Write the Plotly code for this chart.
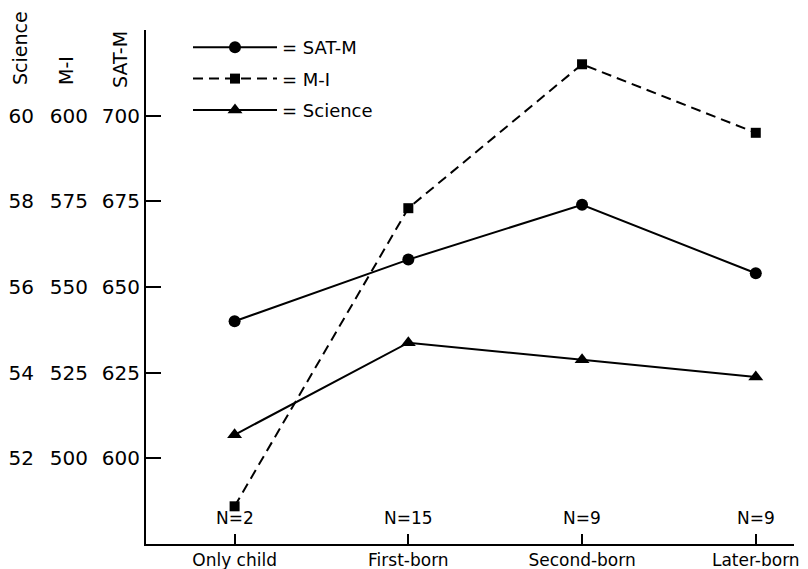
import plotly.graph_objects as go

categories = ["Only child", "First-born", "Second-born", "Later-born"]
n_labels = ["N=2", "N=15", "N=9", "N=9"]
sat_m = [640, 658, 674, 654]
m_i = [486, 573, 615, 595]
science = [52.55, 54.7, 54.3, 53.9]

sat_ticks = [600, 625, 650, 675, 700, 725]
sat_ticktext = ["600", "625", "650", "675", "700", ""]
mi_ticks = [500, 525, 550, 575, 600]
sci_ticks = [52, 54, 56, 58, 60]

FONT = "DejaVu Sans"
OFF = 8  # page body margin offset
W, H = 808 - OFF, 569 - OFF
ML, MR, MT, MB = 0, 14, 30 - OFF, 25
PW = W - ML - MR
PH = H - MT - MB

def px(xp):
    return (xp - OFF - ML) / PW

def py(yp):
    return (H - MB - (yp - OFF)) / PH

fig = go.Figure()
fig.add_trace(go.Scatter(
    x=categories, y=sat_m, name="= SAT-M", mode="lines+markers",
    line=dict(color="black", width=2),
    marker=dict(symbol="circle", size=12, color="black"),
    legendgroup="a", yaxis="y"))
fig.add_trace(go.Scatter(
    x=categories, y=m_i, name="= M-I", mode="lines+markers",
    line=dict(color="black", width=2, dash="10px,6px"),
    marker=dict(symbol="square", size=10, color="black"),
    legendgroup="b", yaxis="y2"))
fig.add_trace(go.Scatter(
    x=categories, y=science, name="= Science", mode="lines+markers",
    line=dict(color="black", width=2),
    marker=dict(symbol="triangle-up", size=13, color="black"),
    legendgroup="c", yaxis="y3"))

x0 = px(146)
common_tick_font = dict(family=FONT, size=20, color="black")

fig.update_layout(
    width=W, height=H,
    margin=dict(l=ML, r=MR, t=MT, b=MB),
    paper_bgcolor="white", plot_bgcolor="white",
    font=dict(family=FONT, color="black"),
    showlegend=True,
    legend=dict(
        x=px(188), y=py(29), xanchor="left", yanchor="top",
        font=dict(family=FONT, size=18, color="black"),
        bgcolor="rgba(0,0,0,0)", traceorder="grouped", tracegroupgap=5,
        itemwidth=84,
    ),
    xaxis=dict(
        domain=[x0, 1], type="category", range=[-0.51, 3.22],
        showline=True, linecolor="black", linewidth=2,
        ticks="inside", ticklen=10, tickwidth=2, tickcolor="black",
        tickfont=dict(family=FONT, size=17, color="black"),
        showgrid=False, zeroline=False, anchor="y",
    ),
    yaxis=dict(
        range=[575, 725], tickvals=sat_ticks, ticktext=sat_ticktext,
        showline=True, linecolor="black", linewidth=2,
        ticks="inside", ticklen=15, tickwidth=2, tickcolor="black",
        tickfont=common_tick_font, showgrid=False, zeroline=False,
        anchor="x",
    ),
    yaxis2=dict(
        range=[475, 625], tickvals=mi_ticks, overlaying="y",
        anchor="free", position=px(88), side="left",
        showline=False, ticks="", tickfont=common_tick_font,
        showgrid=False, zeroline=False,
    ),
    yaxis3=dict(
        range=[50, 62], tickvals=sci_ticks, overlaying="y",
        anchor="free", position=px(34), side="left",
        showline=False, ticks="", tickfont=common_tick_font,
        showgrid=False, zeroline=False,
    ),
)

annotations = []
for cat, lab in zip(categories, n_labels):
    annotations.append(dict(
        x=cat, y=0, xref="x", yref="y domain", text=lab, showarrow=False,
        xanchor="center", yanchor="bottom", yshift=14,
        font=dict(family=FONT, size=17, color="black")))

for text, xp, yp in [("Science", 20, 48), ("M-I", 66, 70), ("SAT-M", 120, 60)]:
    annotations.append(dict(
        x=px(xp), y=py(yp), xref="paper", yref="paper", text=text,
        showarrow=False, textangle=-90, xanchor="center", yanchor="middle",
        font=dict(family=FONT, size=19, color="black")))

fig.update_layout(annotations=annotations)

fig.write_html("out.html")
